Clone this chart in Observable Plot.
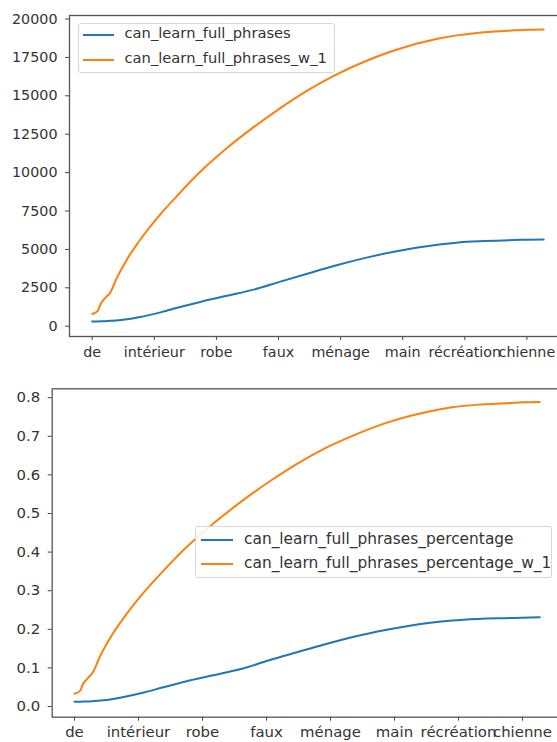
<!DOCTYPE html>
<html>
<head>
<meta charset="utf-8">
<script src="https://cdn.jsdelivr.net/npm/d3@7"></script>
<script src="https://cdn.jsdelivr.net/npm/@observablehq/plot@0.6"></script>
<style>
  html, body { margin: 0; padding: 0; background: #fff; }
  body { width: 557px; height: 742px; overflow: hidden; position: relative; font-family: "DejaVu Sans", sans-serif; }
  .panel { position: absolute; left: 0; width: 567px; }
  .panel svg { max-width: none !important; }
  .legend { position: absolute; box-sizing: border-box; border: 1px solid #d6d6d6; border-radius: 3px; background: rgba(255,255,255,0.85); color: #333; }
  .legend .swatch { position: absolute; height: 0; border-top: 2px solid; }
  .legend .lbl { position: absolute; line-height: 1; white-space: nowrap; }
</style>
</head>
<body>
<div id="top" class="panel" style="top:0"></div>
<div id="bot" class="panel" style="top:370px"></div>
<div id="legTop" class="legend" style="left:78px; top:23px; width:257px; height:50px;"></div>
<div id="legBot" class="legend" style="left:195px; top:526px; width:357px; height:52px;"></div>
<script>
// ---- data ----
const tickWords = ["de", "intérieur", "robe", "faux", "ménage", "main", "récréation", "chienne"];
const tickRanks = [0, 500, 1000, 1500, 2000, 2500, 3000, 3500];

const ranks = [0, 45, 65, 100, 150, 190, 280, 375, 550, 685, 870, 1085, 1300, 1515, 1745, 1945, 2200, 2430, 2780, 2950, 3155, 3400, 3500, 3635];

const fullPhrases = [300, 310, 315, 330, 350, 370, 450, 580, 900, 1200, 1580, 1980, 2380, 2900, 3450, 3920, 4450, 4850, 5300, 5450, 5540, 5610, 5630, 5640];
const fullPhrasesW1 = [800, 1000, 1400, 1800, 2250, 3000, 4350, 5500, 7300, 8500, 10050, 11600, 12960, 14200, 15400, 16300, 17250, 17950, 18710, 18950, 19140, 19260, 19300, 19320];

const fullPhrasesPct = [0.012, 0.012, 0.013, 0.013, 0.014, 0.015, 0.018, 0.024, 0.037, 0.049, 0.065, 0.081, 0.097, 0.119, 0.141, 0.160, 0.182, 0.198, 0.217, 0.223, 0.227, 0.229, 0.230, 0.231];
const fullPhrasesPctW1 = [0.033, 0.041, 0.057, 0.072, 0.092, 0.123, 0.178, 0.225, 0.299, 0.348, 0.411, 0.474, 0.530, 0.581, 0.630, 0.667, 0.705, 0.734, 0.765, 0.775, 0.782, 0.786, 0.788, 0.789];

const topNames = ["can_learn_full_phrases", "can_learn_full_phrases_w_1"];
const botNames = ["can_learn_full_phrases_percentage", "can_learn_full_phrases_percentage_w_1"];
const topYTicks = [0, 2500, 5000, 7500, 10000, 12500, 15000, 17500, 20000];
const botYTicks = [0.0, 0.1, 0.2, 0.3, 0.4, 0.5, 0.6, 0.7, 0.8];
const colors = ["#1f77b4", "#ff7f0e"];

const wordByRank = new Map(tickRanks.map((r, i) => [r, tickWords[i]]));

function toRows(names, arrays) {
  const rows = [];
  names.forEach((n, k) => ranks.forEach((r, i) => rows.push({series: n, rank: r, value: arrays[k][i]})));
  return rows;
}

function makePlot(o) {
  return Plot.plot({
    width: 567,
    height: o.height,
    marginLeft: o.marginLeft,
    marginRight: 1,
    marginTop: o.marginTop,
    marginBottom: o.marginBottom,
    style: {fontFamily: "DejaVu Sans, sans-serif", fontSize: o.fontSize + "px", color: "#333", background: "transparent", overflow: "visible", maxWidth: "none"},
    x: {domain: o.xDomain},
    y: {domain: o.yDomain},
    color: {domain: o.names, range: colors},
    marks: [
      Plot.axisX({ticks: tickRanks, tickFormat: d => wordByRank.get(d), tickSize: 4, tickPadding: o.xPad, label: null, stroke: "#444", fontSize: o.fontSize}),
      Plot.axisY({ticks: o.yTicks, tickFormat: o.yFormat, tickSize: 4, tickPadding: 8, label: null, stroke: "#444", fontSize: o.fontSize}),
      Plot.line(toRows(o.names, o.arrays), {x: "rank", y: "value", z: "series", stroke: "series", strokeWidth: 2, curve: "monotone-x"}),
      Plot.frame({stroke: "#555", strokeWidth: 1.3})
    ]
  });
}

document.getElementById("top").append(makePlot({
  height: 370, marginLeft: 69, marginTop: 15, marginBottom: 34, fontSize: 14.3, xPad: 6,
  xDomain: [-182.8, 3819], yDomain: [-670, 20228], yTicks: topYTicks, yFormat: d => String(d),
  names: topNames, arrays: [fullPhrases, fullPhrasesW1]
}));

document.getElementById("bot").append(makePlot({
  height: 372, marginLeft: 51.7, marginTop: 18.3, marginBottom: 25.3, fontSize: 14.9, xPad: 5,
  xDomain: [-174, 3844], yDomain: [-0.0277, 0.823], yTicks: botYTicks, yFormat: d => d.toFixed(1),
  names: botNames, arrays: [fullPhrasesPct, fullPhrasesPctW1]
}));

function legend(id, names, fs, rowYs, x0, x1, tx) {
  const el = document.getElementById(id);
  names.forEach((n, i) => {
    const sw = document.createElement("div");
    sw.className = "swatch";
    sw.style.left = x0 + "px"; sw.style.width = (x1 - x0) + "px";
    sw.style.top = (rowYs[i] - 1) + "px";
    sw.style.borderTopColor = colors[i];
    el.append(sw);
    const t = document.createElement("div");
    t.className = "lbl";
    t.style.left = tx + "px";
    t.style.top = (rowYs[i] - fs * 0.55) + "px";
    t.style.fontSize = fs + "px";
    t.textContent = n;
    el.append(t);
  });
}
legend("legTop", topNames, 14.7, [10.5, 35.5], 3.5, 35, 45.5);
legend("legBot", botNames, 15.4, [13, 37], 4.5, 36.5, 48);
</script>
</body>
</html>
